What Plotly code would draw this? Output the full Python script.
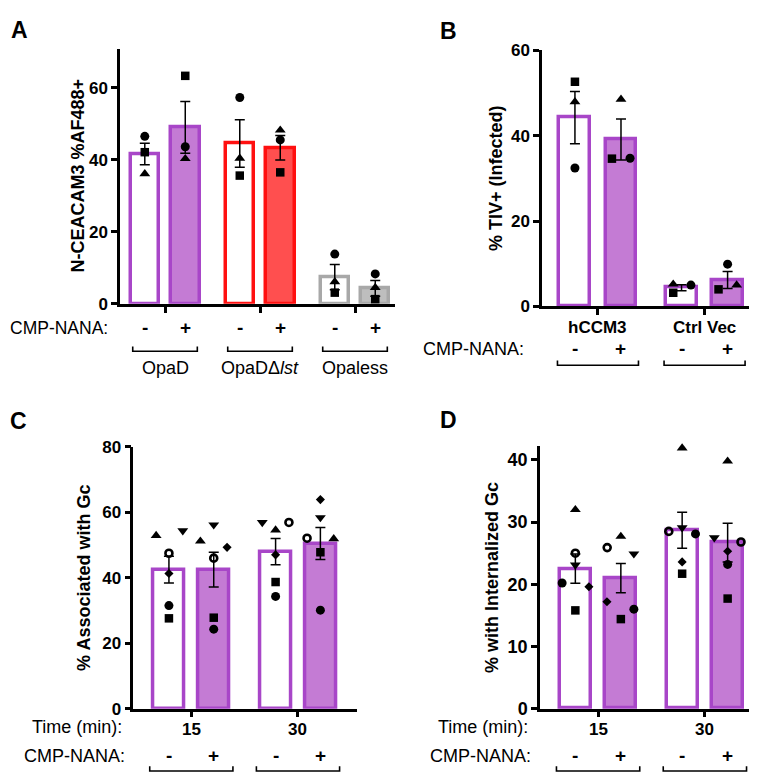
import plotly.graph_objects as go

# ---------------- Data ----------------
# Panel A
a_strains = ["OpaD", "OpaDΔ<i>lst</i>", "Opaless"]
a_cmp = ["-", "+", "-", "+", "-", "+"]
a_mean = [41.6, 49.0, 44.5, 43.3, 7.4, 4.3]
a_sem = [3.0, 7.2, 6.6, 3.4, 3.5, 2.2]
a_circle = [46.5, 43.6, 57.3, 45.5, 13.8, 8.3]
a_square = [42.1, 63.3, 35.6, 36.5, 3.1, 1.3]
a_triangle = [36.1, 40.3, 40.4, 48.2, 6.1, 4.5]
a_yticks = [0, 20, 40, 60]
a_ytitle = "N-CEACAM3 %AF488+"

# Panel B
b_groups = ["hCCM3", "Ctrl Vec"]
b_cmp = ["-", "+", "-", "+"]
b_mean = [44.2, 39.1, 4.4, 6.2]
b_sem = [6.1, 4.8, 0.7, 2.0]
b_circle = [32.4, 34.7, 5.0, 9.9]
b_square = [52.6, 34.6, 3.2, 4.0]
b_triangle = [47.9, 48.5, 5.2, 5.0]
b_yticks = [0, 20, 40, 60]
b_ytitle = "% TIV+ (Infected)"

# Panel C
c_times = ["15", "30"]
c_cmp = ["-", "+", "-", "+"]
c_mean = [42.5, 42.5, 48.0, 50.5]
c_sem = [4.1, 5.3, 4.0, 4.9]
c_triangle_up = [52.9, 51.2, 54.6, 51.9]
c_triangle_down = [54.4, 56.2, 56.9, 58.4]
c_circle_open = [47.5, 46.0, 56.9, 52.1]
c_diamond = [41.3, 49.3, 47.0, 63.9]
c_circle = [31.5, 24.3, 34.3, 30.1]
c_square = [27.6, 27.8, 38.7, 47.8]
c_yticks = [0, 20, 40, 60, 80]
c_ytitle = "% Associated with Gc"

# Panel D
d_times = ["15", "30"]
d_cmp = ["-", "+", "-", "+"]
d_mean = [22.5, 21.0, 28.7, 26.7]
d_sem = [2.35, 2.35, 2.9, 3.1]
d_triangle_up = [32.0, 27.7, 41.9, 39.8]
d_triangle_down = [23.1, 24.9, 29.1, 27.5]
d_circle_open = [25.0, 25.9, 28.5, 26.8]
d_diamond = [19.6, 17.2, 23.6, 25.3]
d_circle = [20.2, 16.0, 28.1, 23.2]
d_square = [15.8, 14.4, 21.7, 17.7]
d_yticks = [0, 10, 20, 30, 40]
d_ytitle = "% with Internalized Gc"

# ---------------- Styling / layout ----------------
W, H = 757, 776
FONT = "Liberation Sans, Arial, sans-serif"

PURPLE_EDGE = "#A846C8"
PURPLE_FILL = "#C47BD4"
RED_EDGE = "#FF1010"
RED_FILL = "#FF4F4F"
GRAY_EDGE = "#A8A8A8"
GRAY_FILL = "#BEBEBE"

# horizontal jitter of replicate points (category units)
b_off = {"circle": [0, 0.085, 0.088, 0], "square": [0, -0.085, -0.078, -0.085],
         "triangle-up": [0, 0, -0.078, 0.085]}
c_off = {"triangle-up": [-0.12, -0.125, 0, 0.125], "triangle-down": [0.13, 0, -0.125, 0],
         "circle-open": [0, 0, 0.125, -0.125], "diamond": [0, 0.125, 0, 0],
         "circle": [0, 0, 0, 0], "square": [0, 0, 0, 0]}
d_off = {"triangle-up": [0, 0, 0, 0], "triangle-down": [0, 0.122, 0, -0.125],
         "circle-open": [0, -0.128, -0.125, 0.125], "diamond": [0.127, -0.13, 0, 0],
         "circle": [-0.124, 0.122, 0.125, 0], "square": [0, 0, 0, 0]}

SIZES = {"circle": 9, "square": 8.5, "triangle-up": 9.5, "triangle-down": 9.5,
         "diamond": 7, "circle-open": 7}


def py(y):
    return 1 - y / H


def pxx(x):
    return x / W


panels = [
    dict(k="", x0=112, x1=387, yt=33, yb=294, xr=[-0.474, 2.421], yr=[0, 70.7],
         yticks=a_yticks, off=0.213, bw=0.30, tfs=17),
    dict(k="2", x0=534, x1=752, yt=34, yb=296.7, xr=[-0.525, 1.52], yr=[0, 60],
         yticks=b_yticks, off=0.216, bw=0.29, tfs=17),
    dict(k="3", x0=125.3, x1=349.3, yt=440.7, yb=709, xr=[-0.544, 1.556], yr=[0, 80],
         yticks=c_yticks, off=0.21, bw=0.29, tfs=17),
    dict(k="4", x0=532, x1=756.7, yt=440, yb=709, xr=[-0.544, 1.56], yr=[0, 42.2],
         yticks=d_yticks, off=0.213, bw=0.29, tfs=18),
]

fig = go.Figure()


def bar_positions(ngroups, off):
    xs = []
    for g in range(ngroups):
        xs += [g - off, g + off]
    return xs


def add_panel(p, means, sems, edges, fills, points, offsets):
    xa, ya = "x" + p["k"], "y" + p["k"]
    n = len(means) // 2
    xs = bar_positions(n, p["off"])
    fig.add_trace(go.Bar(x=xs, y=means, width=p["bw"], xaxis=xa, yaxis=ya,
                         marker=dict(color=fills, line=dict(color=edges, width=3.5))))
    fig.add_trace(go.Scatter(x=xs, y=means, mode="markers", xaxis=xa, yaxis=ya,
                             marker=dict(size=2, color="rgba(0,0,0,0)"),
                             error_y=dict(type="data", array=sems, color="black",
                                          thickness=1.5, width=5)))
    for sym, vals in points.items():
        o = offsets.get(sym, [0] * len(vals)) if offsets else [0] * len(vals)
        mk = dict(symbol=sym, size=SIZES[sym], color="black")
        if sym == "circle-open":
            mk["line"] = dict(width=2.6, color="black")
        fig.add_trace(go.Scatter(x=[x + d for x, d in zip(xs, o)], y=vals, mode="markers",
                                 xaxis=xa, yaxis=ya, marker=mk, cliponaxis=False))
    return xs


W_ = "white"
xsA = add_panel(panels[0], a_mean, a_sem,
                [PURPLE_EDGE, PURPLE_EDGE, RED_EDGE, RED_EDGE, GRAY_EDGE, GRAY_EDGE],
                [W_, PURPLE_FILL, W_, RED_FILL, W_, GRAY_FILL],
                {"circle": a_circle, "square": a_square, "triangle-up": a_triangle}, None)
xsB = add_panel(panels[1], b_mean, b_sem, [PURPLE_EDGE] * 4, [W_, PURPLE_FILL, W_, PURPLE_FILL],
                {"circle": b_circle, "square": b_square, "triangle-up": b_triangle}, b_off)
xsC = add_panel(panels[2], c_mean, c_sem, [PURPLE_EDGE] * 4, [W_, PURPLE_FILL, W_, PURPLE_FILL],
                {"triangle-up": c_triangle_up, "triangle-down": c_triangle_down,
                 "circle-open": c_circle_open, "diamond": c_diamond,
                 "circle": c_circle, "square": c_square}, c_off)
xsD = add_panel(panels[3], d_mean, d_sem, [PURPLE_EDGE] * 4, [W_, PURPLE_FILL, W_, PURPLE_FILL],
                {"triangle-up": d_triangle_up, "triangle-down": d_triangle_down,
                 "circle-open": d_circle_open, "diamond": d_diamond,
                 "circle": d_circle, "square": d_square}, d_off)

layout = dict(width=W, height=H, margin=dict(l=0, r=0, t=0, b=0), autosize=False,
              plot_bgcolor="white", paper_bgcolor="white", showlegend=False,
              font=dict(family=FONT, color="black"), bargap=0)

axis_common = dict(showline=True, linecolor="black", linewidth=2.5, ticks="outside",
                   ticklen=6, tickwidth=2.5, tickcolor="black", showgrid=False, zeroline=False,
                   fixedrange=True)
ngroups = [3, 2, 2, 2]
for p, ng in zip(panels, ngroups):
    k = p["k"]
    layout["xaxis" + k] = dict(axis_common, domain=[pxx(p["x0"]), pxx(p["x1"])], range=p["xr"],
                               anchor="y" + k, tickvals=list(range(ng)), showticklabels=False)
    layout["yaxis" + k] = dict(axis_common, domain=[py(p["yb"]), py(p["yt"])], range=p["yr"],
                               anchor="x" + k, tickvals=p["yticks"],
                               tickfont=dict(size=p["tfs"], weight="bold", family=FONT))
fig.update_layout(**layout)

ann = []
shapes = []


def text(x, y, s, size=18, bold=False, xref="paper", xanchor="center", angle=0):
    xv = pxx(x) if xref == "paper" else x
    ann.append(dict(x=xv, y=py(y), xref=xref, yref="paper", text=s, showarrow=False,
                    xanchor=xanchor, yanchor="middle", textangle=angle,
                    font=dict(size=size, family=FONT, color="black",
                              weight="bold" if bold else "normal")))


def bracket(xref, xc, half, y, tick=5):
    path = (f"M {xc - half},{py(y - tick)} L {xc - half},{py(y)} "
            f"L {xc + half},{py(y)} L {xc + half},{py(y - tick)}")
    shapes.append(dict(type="path", path=path, xref=xref, yref="paper",
                       line=dict(color="black", width=1.6)))


# Panel letters
text(11, 13, "A", size=23, bold=True)
text(441, 14, "B", size=23, bold=True)
text(10, 414, "C", size=23, bold=True)
text(441, 413, "D", size=23, bold=True)

# Y titles
text(70.5, 163, a_ytitle, size=18, bold=True, angle=-90)
text(488, 165, b_ytitle, size=18, bold=True, angle=-90)
text(76, 575, c_ytitle, size=18, bold=True, angle=-90)
text(484, 575, d_ytitle, size=18, bold=True, angle=-90)

# Panel A labels
text(102, 319, "CMP-NANA:", size=17.5, xanchor="right")
for x, s in zip(xsA, a_cmp):
    text(x, 318, s, size=19, bold=True, xref="x")
for g, s in enumerate(a_strains):
    bracket("x", g, 0.34, 342.7)
    text(g, 359.5, s, xref="x")

# Panel B labels
for g, s in enumerate(b_groups):
    text(g, 318, s, size=17, bold=True, xref="x2")
    bracket("x2", g, 0.38, 357)
text(518, 340.5, "CMP-NANA:", xanchor="right")
for x, s in zip(xsB, b_cmp):
    text(x, 340, s, size=19, bold=True, xref="x2")

# Panel C labels
text(116, 728, "Time (min):", xanchor="right")
for g, s in enumerate(c_times):
    text(g, 730, s, size=17, bold=True, xref="x3")
    bracket("x3", g, 0.39, 773)
text(119, 757.5, "CMP-NANA:", xanchor="right")
for x, s in zip(xsC, c_cmp):
    text(x, 757, s, size=19, bold=True, xref="x3")

# Panel D labels
text(522, 728, "Time (min):", xanchor="right")
for g, s in enumerate(d_times):
    text(g, 730, s, size=17, bold=True, xref="x4")
    bracket("x4", g, 0.39, 773)
text(525, 757.5, "CMP-NANA:", xanchor="right")
for x, s in zip(xsD, d_cmp):
    text(x, 757, s, size=19, bold=True, xref="x4")

fig.update_layout(annotations=ann, shapes=shapes)
fig.write_html("out.html")
